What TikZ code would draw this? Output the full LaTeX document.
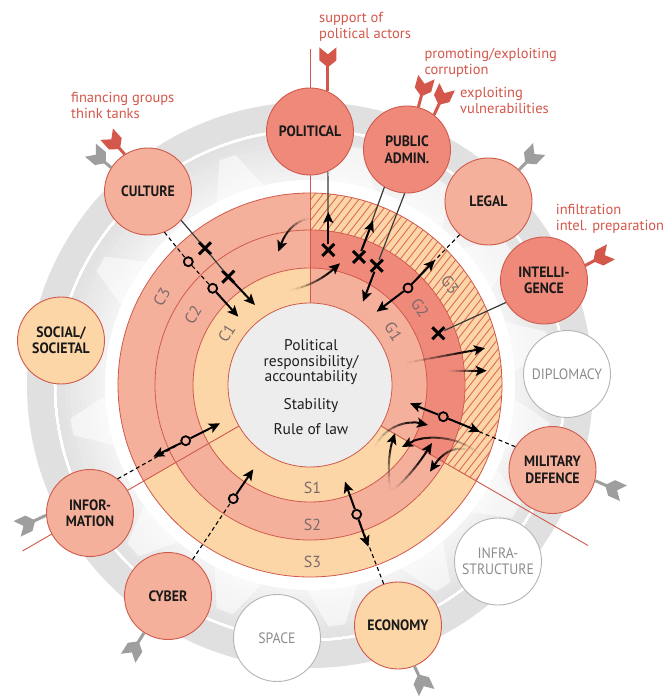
\documentclass[tikz,border=0pt]{standalone}
\usepackage{fontspec}
\setmainfont{PT Sans}
\newfontfamily\narrowsans[FakeStretch=0.92]{PT Sans}
\usetikzlibrary{arrows.meta,shapes.misc}

\definecolor{peach}{HTML}{FCD6A6}
\definecolor{salmon}{HTML}{F5B09B}
\definecolor{dsalmon}{HTML}{EF8A7B}
\definecolor{rline}{HTML}{D0594C}
\definecolor{rtext}{HTML}{D4574B}
\definecolor{hatchc}{HTML}{DD6B5C}
\definecolor{innerg}{HTML}{EDEDED}
\definecolor{greyarr}{HTML}{9E9E9E}
\definecolor{greytxt}{HTML}{8C8C8C}
\definecolor{greyring}{HTML}{B4B4B4}
\definecolor{ringtxt}{HTML}{7C6A6A}
\definecolor{lnk}{HTML}{3A3A3A}
\definecolor{bandout}{HTML}{E0E0E0}

% one coloured piece of a ring: start angle, end angle, inner and outer radius, colour
\newcommand{\ringpart}[5]{%
  \fill[#5] (#1:#4) arc[start angle=#1, end angle=#2, radius=#4]
    -- (#2:#3) arc[start angle=#2, end angle=#1, radius=#3] -- cycle;}

% feathered attack arrow: anchor on a domain circle, direction, colour, shaft length
\newcommand{\fletch}[4]{%
  \begin{scope}[shift={(#1)}, rotate=#2]
    \fill[#3] (0,-1.5) rectangle (#4+2,1.5);
    \fill[#3] (#4,0) -- ++(7,8.5) -- ++(13,0) -- ++(-7,-8.5)
      -- ++(7,-8.5) -- ++(-13,0) -- cycle;
  \end{scope}}

% arrow whose tail fades out: start, two controls, end
\newcommand{\fadearrow}[4]{%
  \path (#1) .. controls #2 and #3 .. (#4)
    coordinate[pos=0] (q0) coordinate[pos=0.1] (q1) coordinate[pos=0.2] (q2)
    coordinate[pos=0.3] (q3) coordinate[pos=0.4] (q4) coordinate[pos=0.5] (q5)
    coordinate[pos=0.6] (q6) coordinate[pos=0.7] (q7) coordinate[pos=0.8] (q8)
    coordinate[pos=0.9] (q9) coordinate[pos=1] (q10);
  \foreach \a/\b/\o in {0/1/0.04,1/2/0.12,2/3/0.25,3/4/0.4,4/5/0.55,5/6/0.7,6/7/0.85,7/8/0.95}
    \draw[fadeln, draw opacity=\o] (q\a) -- (q\b);
  \draw[fadeln, -{Stealth[length=11pt,width=10pt,inset=2.5pt]}] (q8) -- (q10);}

% lighter spoke of the grey band, centred on an angle
\newcommand{\spoke}[1]{%
  \fill[white, opacity=0.55] (#1-7:205) -- (#1+7:205) -- (#1+2:242) -- (#1-2:242) -- cycle;}

\tikzset{
  dom/.style={circle, minimum size=87pt, inner sep=0pt, draw=rline, line width=0.9pt,
    font=\narrowsans\bfseries\fontsize{15}{16.5}\selectfont, align=center, text=black!90},
  domA/.style={dom, fill=dsalmon},
  domB/.style={dom, fill=salmon},
  domC/.style={dom, fill=peach},
  domN/.style={dom, fill=white, draw=greyring, text=greytxt,
    font=\narrowsans\fontsize{15}{16.5}\selectfont},
  xmark/.style={cross out, draw=black, line width=3pt, minimum size=9pt, inner sep=0pt},
  omark/.style={circle, draw=black, line width=1.8pt, minimum size=9pt, inner sep=0pt},
  marr/.style={line width=2pt, -{Stealth[length=11pt,width=10pt,inset=2.5pt]}},
  fadeln/.style={line width=2pt, draw=black},
  thinln/.style={draw=lnk, line width=1.2pt},
  dashln/.style={draw=black, line width=1.1pt, dash pattern=on 4pt off 3pt},
  rlab/.style={text=ringtxt, font=\fontsize{16}{16}\selectfont, inner sep=0pt},
  redtxt/.style={text=rtext, font=\fontsize{14.5}{16}\selectfont, align=left,
    anchor=north west, inner sep=0pt},
}

\begin{document}
\begin{tikzpicture}[x=1pt,y=1pt]
\useasboundingbox (-310,-311) rectangle (360,385);
\fill[white] (-310,-311) rectangle (360,385);

% grey band carrying the domains, lighter towards the centre
\fill[bandout] (0,0) circle[radius=283];
\foreach \k in {0,...,9} {
  \pgfmathsetmacro\ro{255-5*\k}
  \pgfmathsetmacro\sh{11.5-0.75*\k}
  \fill[black!\sh] (0,0) circle[radius=\ro];
}
\fill[white] (0,0) circle[radius=205];
\foreach \a in {78.8,56.7,34.9,10.8,-10.9,-31.3,-56.6,-83.7,-110.7,-137,-170,150,110}
  \spoke{\a}
\draw[white, line width=2pt] (0,0) circle[radius=255];

% the three sectors, three rings each
\ringpart{90}{210}{82}{117}{peach}
\ringpart{90}{210}{117}{155}{salmon}
\ringpart{90}{210}{155}{192}{salmon}
\ringpart{-30}{90}{82}{117}{salmon}
\ringpart{-30}{90}{117}{155}{dsalmon}
\ringpart{-30}{90}{155}{192}{peach}
\ringpart{210}{330}{82}{117}{peach}
\ringpart{210}{330}{117}{155}{salmon}
\ringpart{210}{330}{155}{192}{peach}

% hatching of G3
\begin{scope}
  \clip (-30:192) arc[start angle=-30, end angle=90, radius=192]
    -- (90:155) arc[start angle=90, end angle=-30, radius=155] -- cycle;
  \foreach \i in {-22,...,36}
    \draw[hatchc, line width=0.9pt] (\i*8-185,-237) -- (\i*8+185,237);
\end{scope}

\foreach \r in {117,155,192}
  \draw[rline, line width=0.8pt] (0,0) circle[radius=\r];

% sector dividers
\draw[rline, line width=0.9pt] (0,0) -- (90:336);
\draw[rline, line width=0.9pt] (0,0) -- (210:332);
\draw[rline, line width=0.9pt] (0,0) -- (330:321);

% core
\draw[rline, line width=0.8pt, fill=innerg] (0,0) circle[radius=82];
\node[align=center, font=\fontsize{15.5}{15.7}\selectfont, text=black!88, inner sep=0pt]
  (core) at (1,-2.3) {Political\\responsibility/\\accountability\\[11.6pt]Stability\\[10pt]Rule of law};

% ring labels
\node[rlab, rotate=58] (lC1) at (-83.3,51.7) {C1};
\node[rlab, rotate=59] (lC2) at (-117,70) {C2};
\node[rlab, rotate=59] (lC3) at (-148.3,88.3) {C3};
\node[rlab, rotate=-57] (lG1) at (83.3,53.3) {G1};
\node[rlab, rotate=-55] (lG2) at (110,76.7) {G2};
\node[rlab, rotate=-54] (lG3) at (140,100) {G3};
\node[rlab] (lS1) at (2.5,-102.5) {S1};
\node[rlab] (lS2) at (2.5,-139.5) {S2};
\node[rlab] (lS3) at (2.5,-176.5) {S3};

% domains
\node[domA] (POL) at (0,253.5) {POLITICAL};
\node[domA] (PA) at (97,235.5) {PUBLIC\\ADMIN.};
\node[domB] (LEG) at (178.5,183.5) {LEGAL};
\node[domA] (INT) at (234,104.5) {INTELLI-\\GENCE};
\node[domN] (DIP) at (257,11) {DIPLOMACY};
\node[domB] (MIL) at (242.5,-85) {MILITARY\\DEFENCE};
\node[domN] (INFR) at (188,-176.5) {INFRA-\\STRUCTURE};
\node[domC] (ECO) at (88,-240.5) {ECONOMY};
\node[domN] (SPA) at (-33,-253) {SPACE};
\node[domB] (CYB) at (-142,-211) {CYBER};
\node[domB] (INF) at (-220,-128) {INFOR-\\MATION};
\node[domC] (SOC) at (-249,44.5) {SOCIAL/\\SOCIETAL};
\node[domB] (CUL) at (-162,193.5) {CULTURE};

% attack arrows
\fletch{POL.66}{90}{rtext}{24}
\fletch{PA.75}{75}{rtext}{11}
\fletch{PA.52}{65}{rtext}{11}
\fletch{LEG.46}{46}{greyarr}{9}
\fletch{INT.20}{28}{rtext}{9}
\fletch{MIL.-14}{-24}{greyarr}{11}
\fletch{ECO.-68}{-65}{greyarr}{9}
\fletch{CYB.-123}{-122}{greyarr}{10}
\fletch{INF.-177}{-155}{greyarr}{12}
\fletch{CUL.122}{132}{rtext}{7}
\fletch{CUL.147}{140}{greyarr}{7}

% points of impact
\node[xmark] (cX1) at (-105,136.7) {};
\node[xmark] (cX2) at (-81.7,108.3) {};
\node[omark, fill=salmon] (cO1) at (-121.7,123.3) {};
\node[omark, fill=salmon] (cO2) at (-97.3,96.7) {};
\node[xmark] (pX) at (18.3,135) {};
\node[xmark] (aX1) at (49,128) {};
\node[xmark] (aX2) at (66.7,119.3) {};
\node[omark, fill=dsalmon] (lO) at (98,97) {};
\node[xmark] (iX) at (128.3,51.7) {};
\node[omark, fill=salmon] (fO) at (-124.3,-55.7) {};
\node[omark, fill=salmon] (yO) at (-76.7,-113.7) {};
\node[omark, fill=salmon] (eO) at (46.7,-129.3) {};
\node[omark, fill=dsalmon] (mO) at (133.3,-31.7) {};

% arrow ends
\coordinate (cX2t) at (-55,80);
\coordinate (cO2t) at (-71.7,68.3);
\coordinate (pXt) at (18.3,173);
\coordinate (aX1t) at (63,164.3);
\coordinate (aX2t) at (53,83.3);
\coordinate (lOa) at (125,125);
\coordinate (lOb) at (66.7,73.3);
\coordinate (fOa) at (-156.7,-71.7);
\coordinate (fOb) at (-90,-38.3);
\coordinate (yOt) at (-56.7,-84.3);
\coordinate (eOa) at (35,-96.7);
\coordinate (eOb) at (58.3,-161.7);
\coordinate (mOa) at (100,-18.3);
\coordinate (mOb) at (170,-46.7);

% links from the domains
\draw[thinln] (CUL.-41) -- (cX1) -- (cX2);
\draw[dashln] (CUL.-68) -- (cO1) -- (cO2);
\draw[thinln] (POL.-66) -- (pX);
\draw[thinln] (PA.-121) -- (aX1);
\draw[thinln] (PA.-93) -- (aX2);
\draw[dashln] (LEG.-131) -- (lO);
\draw[thinln] (INT.-150) -- (iX);
\draw[dashln] (INF.51) -- (fO);
\draw[dashln] (CYB.56) -- (yO);
\draw[dashln] (ECO.109) -- (eO);
\draw[dashln] (MIL.148) -- (mO);

% effects
\draw[marr] (cX2) -- (cX2t);
\draw[marr] (cO2) -- (cO2t);
\draw[marr] (pX) -- (pXt);
\draw[marr] (aX1) -- (aX1t);
\draw[marr] (aX2) -- (aX2t);
\draw[marr] (lO) -- (lOa);
\draw[marr] (lO) -- (lOb);
\draw[marr] (fO) -- (fOa);
\draw[marr] (fO) -- (fOb);
\draw[marr] (yO) -- (yOt);
\draw[marr] (eO) -- (eOa);
\draw[marr] (eO) -- (eOb);
\draw[marr] (mO) -- (mOa);
\draw[marr] (mO) -- (mOb);

% cascading effects between rings
\coordinate (fa1) at (0,166.7);     \coordinate (fb1) at (-31.7,133.3);
\coordinate (fa2) at (-20,95);      \coordinate (fb2) at (30,121.7);
\coordinate (fa3) at (96.7,22.3);   \coordinate (fb3) at (175,36.7);
\coordinate (fa4) at (138,14);      \coordinate (fb4) at (176.7,14.3);
\coordinate (fa5) at (65,-62);      \coordinate (fb5) at (118,-40);
\coordinate (fa6) at (80,-105);     \coordinate (fb6) at (85,-48.3);
\coordinate (fa7) at (170,-70);     \coordinate (fb7) at (92,-62);
\coordinate (fa8) at (83,-105);     \coordinate (fb8) at (122,-58);
\coordinate (fa9) at (160,-65);     \coordinate (fb9) at (120,-86.7);
\fadearrow{fa1}{(-15.3,164.2)}{(-25.9,153.1)}{fb1}
\fadearrow{fa2}{(-1.3,98.3)}{(15.3,107.2)}{fb2}
\fadearrow{fa3}{(122.8,27.1)}{(148.9,31.9)}{fb3}
\fadearrow{fa4}{(150.9,14.1)}{(163.8,14.2)}{fb4}
\fadearrow{fa5}{(75,-40)}{(100,-33)}{fb5}
\fadearrow{fa6}{(77.3,-81.7)}{(79,-62.8)}{fb6}
\fadearrow{fa7}{(150,-50)}{(110,-47)}{fb7}
\fadearrow{fa8}{(96.7,-94)}{(109.7,-78.3)}{fb8}
\fadearrow{fa9}{(144,-60.3)}{(130.7,-67.6)}{fb9}

% annotations of the attacks
\node[redtxt] (t1) at (9,373) {support of\\political actors};
\node[redtxt] (t2) at (114.3,336.7) {promoting/exploiting\\corruption};
\node[redtxt] (t3) at (150,297.7) {exploiting\\vulnerabilities};
\node[redtxt] (t4) at (-239,292.7) {financing groups\\think tanks};
\node[redtxt] (t5) at (245.7,180.7) {infiltration\\intel. preparation};
\end{tikzpicture}
\end{document}
